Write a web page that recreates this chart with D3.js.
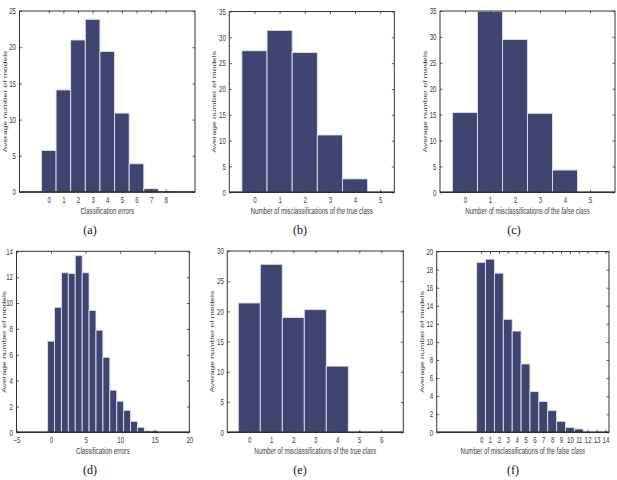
<!DOCTYPE html>
<html>
<head>
<meta charset="utf-8">
<script src="https://cdn.jsdelivr.net/npm/d3@7"></script>
<style>
  body { margin: 0; background: #fff; }
  svg { display: block; }
</style>
</head>
<body>
<script>
// 6 histogram panels

// (a) classification errors
const aCats = [0, 1, 2, 3, 4, 5, 6, 7, 8]
const aVals = [5.75, 14.1, 21.0, 23.85, 19.4, 10.9, 3.9, 0.45, 0.05]
const aTicks = [0, 1, 2, 3, 4, 5, 6, 7, 8]

// (b) misclassifications of the true class
const bCats = [0, 1, 2, 3, 4, 5]
const bVals = [27.4, 31.35, 27.05, 11.1, 2.6, 0]
const bTicks = [0, 1, 2, 3, 4, 5]

// (c) misclassifications of the false class
const cCats = [0, 1, 2, 3, 4, 5]
const cVals = [15.4, 34.9, 29.5, 15.25, 4.3, 0]
const cTicks = [0, 1, 2, 3, 4, 5]

// (d) classification errors
const dCats = [0, 1, 2, 3, 4, 5, 6, 7, 8, 9, 10, 11, 12, 13, 14, 15, 16]
const dVals = [7.05, 9.67, 12.34, 12.28, 13.66, 12.34, 9.43, 7.9, 5.8, 3.26, 2.4, 1.7, 0.85, 0.39, 0.11, 0.11, 0.02]
const dTicks = [-5, 0, 5, 10, 15, 20]

// (e) misclassifications of the true class
const eCats = [0, 1, 2, 3, 4, 5, 6]
const eVals = [21.4, 27.8, 19.0, 20.3, 10.95, 0, 0]
const eTicks = [0, 1, 2, 3, 4, 5, 6]

// (f) misclassifications of the false class
const fCats = [0, 1, 2, 3, 4, 5, 6, 7, 8, 9, 10, 11, 12, 13, 14]
const fVals = [18.8, 19.15, 17.6, 12.5, 11.2, 7.56, 4.5, 3.4, 2.4, 1.22, 0.55, 0.37, 0, 0, 0]
const fTicks = [0, 1, 2, 3, 4, 5, 6, 7, 8, 9, 10, 11, 12, 13, 14]

const yLabel = 'Average number of models'

const panels = [
  { box: [19.5, 11, 195, 192], xDom: [-2, 10], yMax: 25, yStep: 5, cats: aCats, vals: aVals, ticks: aTicks,
    xlab: ['Classification errors', ''], cap: '(a)', capX: 90, ylabX: 5 },
  { box: [229.3, 11.5, 394.3, 192.3], xDom: [-1, 5.56], yMax: 35, yStep: 5, cats: bCats, vals: bVals, ticks: bTicks,
    xlab: ['Number of misclassifications of the true class', ''], cap: '(b)', capX: 300, ylabX: 214 },
  { box: [440, 11, 615, 192.3], xDom: [-1, 6], yMax: 35, yStep: 5, cats: cCats, vals: cVals, ticks: cTicks,
    xlab: ['Number of misclassifications of the ', 'false class'], cap: '(c)', capX: 514, ylabX: 425 },
  { box: [16.5, 251.3, 189.3, 432.3], xDom: [-5, 20], yMax: 14, yStep: 2, cats: dCats, vals: dVals, ticks: dTicks,
    xlab: ['Classification errors', ''], cap: '(d)', capX: 90, ylabX: 3.5 },
  { box: [227.3, 251, 403.3, 432.3], xDom: [-1, 7], yMax: 30, yStep: 5, cats: eCats, vals: eVals, ticks: eTicks,
    xlab: ['Number of misclassifications of the ', 'true class'], cap: '(e)', capX: 300, ylabX: 211.5 },
  { box: [436.7, 251.5, 609, 432.3], xDom: [-5, 14.4], yMax: 20, yStep: 2, cats: fCats, vals: fVals, ticks: fTicks,
    xlab: ['Number of misclassifications of the ', 'false class'], cap: '(f)', capX: 513, ylabX: 421.5 }
]

const W = 617, H = 480
const squish = 0.72   // horizontal text is compressed in the reference
const font = "'Liberation Sans', Arial, sans-serif"
const ink = '#3a3a3a'

const svg = d3.select('body').append('svg')
  .attr('width', W)
  .attr('height', H)

panels.forEach(function (p) {
  const [l, t, r, b] = p.box
  const x = d3.scaleLinear().domain(p.xDom).range([l, r])
  const y = d3.scaleLinear().domain([0, p.yMax]).range([b, t])
  const yTicks = d3.range(0, p.yMax + 0.001, p.yStep)
  const g = svg.append('g')

  // bars
  g.selectAll('rect.bar')
    .data(p.cats.map(function (c, i) { return { c: c, v: p.vals[i] } }))
    .enter()
    .append('rect')
    .attr('class', 'bar')
    .attr('x', function (d) { return x(d.c - 0.5) })
    .attr('y', function (d) { return y(d.v) })
    .attr('width', function (d) { return x(d.c + 0.5) - x(d.c - 0.5) })
    .attr('height', function (d) { return y(0) - y(d.v) })
    .style('fill', '#404470')
    .style('stroke', '#dfe0ee')
    .style('stroke-width', 0.9)

  // zero line along the bottom
  g.append('line')
    .attr('x1', l).attr('x2', r)
    .attr('y1', y(0)).attr('y2', y(0))
    .style('stroke', '#222')
    .style('stroke-width', 1.6)

  // axes, ticks inside on all four sides
  const xa = g.append('g').attr('transform', 'translate(0,' + b + ')')
    .call(d3.axisBottom(x).tickValues(p.ticks).tickSize(-2.5).tickPadding(5).tickFormat(d3.format('d')))
  const xt = g.append('g').attr('transform', 'translate(0,' + t + ')')
    .call(d3.axisTop(x).tickValues(p.ticks).tickSize(-2.5).tickFormat(''))
  const ya = g.append('g').attr('transform', 'translate(' + l + ',0)')
    .call(d3.axisLeft(y).tickValues(yTicks).tickSize(-2.5).tickPadding(3).tickFormat(d3.format('d')))
  const yr = g.append('g').attr('transform', 'translate(' + r + ',0)')
    .call(d3.axisRight(y).tickValues(yTicks).tickSize(-2.5).tickFormat(''))

  ;[xa, xt, ya, yr].forEach(function (a) {
    a.select('.domain').remove()
    a.selectAll('line').style('stroke', '#333').style('stroke-width', 0.8)
  })
  xa.selectAll('text')
    .style('font-family', font).style('font-size', '8.5px').style('fill', ink)
    .attr('transform', 'scale(' + squish + ',1)')
  ya.selectAll('text')
    .style('font-family', font).style('font-size', '8.5px').style('fill', ink)
    .attr('x', -3.5 / squish)
    .attr('transform', 'scale(' + squish + ',1)')

  // frame
  g.append('rect')
    .attr('x', l).attr('y', t)
    .attr('width', r - l).attr('height', b - t)
    .style('fill', 'none')
    .style('stroke', '#333')
    .style('stroke-width', 1)

  // x label (part italic)
  const xl = g.append('text')
    .attr('transform', 'translate(' + ((l + r) / 2) + ',' + (b + 22) + ') scale(' + squish + ',1)')
    .attr('text-anchor', 'middle')
    .style('font-family', font).style('font-size', '8.5px').style('fill', ink)
  xl.append('tspan').text(p.xlab[0])
  if (p.xlab[1]) xl.append('tspan').style('font-style', 'italic').text(p.xlab[1])

  // y label
  g.append('text')
    .attr('transform', 'translate(' + p.ylabX + ',' + ((t + b) / 2) + ') rotate(-90) scale(1,' + squish + ')')
    .attr('text-anchor', 'middle')
    .attr('dominant-baseline', 'central')
    .style('font-family', font).style('font-size', '8.5px').style('fill', ink)
    .text(yLabel)

  // caption
  g.append('text')
    .attr('x', p.capX)
    .attr('y', b + 42)
    .attr('text-anchor', 'middle')
    .style('font-family', "'Liberation Serif', 'Times New Roman', serif")
    .style('font-size', '12px')
    .style('fill', '#111')
    .text(p.cap)
})
</script>
</body>
</html>
